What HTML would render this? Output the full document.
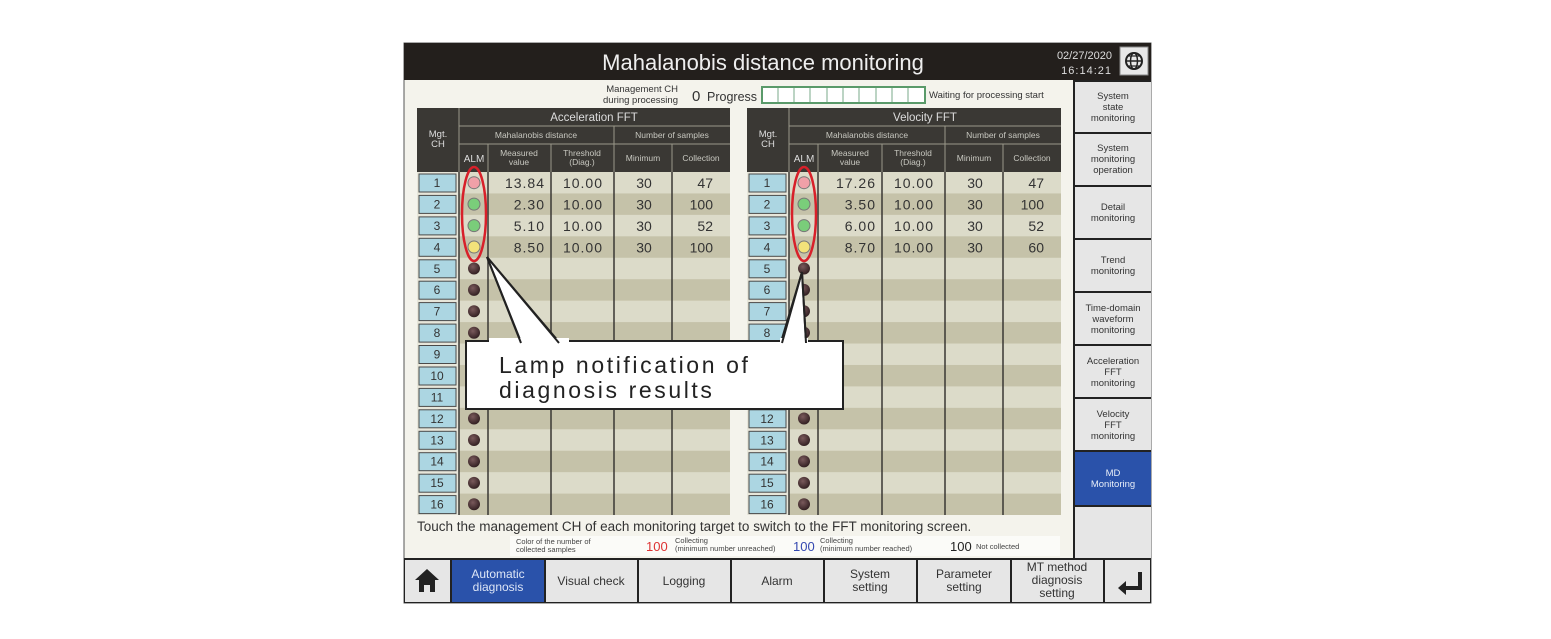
<!DOCTYPE html>
<html><head><meta charset="utf-8"><style>
body{margin:0;background:#fff;}
svg{display:block;font-family:"Liberation Sans",sans-serif;}
</style></head><body>
<svg width="1551" height="639" viewBox="0 0 1551 639" xmlns="http://www.w3.org/2000/svg">
<defs>
<pattern id="st" x="0" y="172" width="10" height="42.88" patternUnits="userSpaceOnUse">
<rect width="10" height="21.44" fill="#dcdbc9"/><rect y="21.44" width="10" height="21.44" fill="#c5c2a9"/>
</pattern>
<radialGradient id="gd" cx="0.4" cy="0.35" r="0.7"><stop offset="0" stop-color="#7a5a5c"/><stop offset="1" stop-color="#2e1c1e"/></radialGradient>
</defs>
<rect x="404" y="43" width="747" height="560" fill="#f4f3ec" stroke="#555" stroke-width="1"/>
<rect x="404" y="43" width="747" height="37" fill="#231f1c"/>
<text x="763" y="70" font-size="22" fill="#eee" text-anchor="middle">Mahalanobis distance monitoring</text>
<text x="1112" y="59" font-size="11" fill="#ddd" text-anchor="end">02/27/2020</text>
<text x="1112" y="74" font-size="11" fill="#ddd" text-anchor="end" letter-spacing="1">16:14:21</text>
<rect x="1120" y="47" width="28" height="28" fill="#e8e8e8" stroke="#888"/>
<circle cx="1134" cy="61" r="8" fill="none" stroke="#222" stroke-width="2"/>
<ellipse cx="1134" cy="61" rx="3.5" ry="8" fill="none" stroke="#222" stroke-width="1.5"/>
<line x1="1126" y1="61" x2="1142" y2="61" stroke="#222" stroke-width="1.5"/>
<line x1="1127" y1="56" x2="1141" y2="56" stroke="#222" stroke-width="1.2"/>
<line x1="1127" y1="66" x2="1141" y2="66" stroke="#222" stroke-width="1.2"/>

<text x="678" y="92" font-size="9.5" fill="#333" text-anchor="end">Management CH</text>
<text x="678" y="103" font-size="9.5" fill="#333" text-anchor="end">during processing</text>
<text x="692" y="101" font-size="15" fill="#333">0</text>
<text x="707" y="101" font-size="12.5" fill="#333">Progress</text>
<rect x="762" y="87" width="163" height="16" fill="#fff" stroke="#5a9a6a" stroke-width="2"/>
<g stroke="#7aa88a" stroke-width="1">
<line x1="778" y1="88" x2="778" y2="102"/><line x1="794" y1="88" x2="794" y2="102"/><line x1="810" y1="88" x2="810" y2="102"/><line x1="827" y1="88" x2="827" y2="102"/><line x1="843" y1="88" x2="843" y2="102"/><line x1="859" y1="88" x2="859" y2="102"/><line x1="876" y1="88" x2="876" y2="102"/><line x1="892" y1="88" x2="892" y2="102"/><line x1="908" y1="88" x2="908" y2="102"/>
</g>
<text x="929" y="98" font-size="9.5" fill="#333">Waiting for processing start</text>

<rect x="1073" y="80" width="78" height="478" fill="#222"/>
<g fill="#e6e6e6">
<rect x="1075" y="82" width="76" height="50"/><rect x="1075" y="134" width="76" height="51"/><rect x="1075" y="187" width="76" height="51"/><rect x="1075" y="240" width="76" height="51"/><rect x="1075" y="293" width="76" height="51"/><rect x="1075" y="346" width="76" height="51"/><rect x="1075" y="399" width="76" height="51"/><rect x="1075" y="507" width="76" height="51"/>
</g>
<rect x="1075" y="452" width="76" height="53" fill="#2a52aa"/>
<g font-size="9.5" fill="#333" text-anchor="middle">
<text x="1113" y="99">System</text><text x="1113" y="110">state</text><text x="1113" y="121">monitoring</text>
<text x="1113" y="151">System</text><text x="1113" y="162">monitoring</text><text x="1113" y="173">operation</text>
<text x="1113" y="210">Detail</text><text x="1113" y="221">monitoring</text>
<text x="1113" y="263">Trend</text><text x="1113" y="274">monitoring</text>
<text x="1113" y="311">Time-domain</text><text x="1113" y="322">waveform</text><text x="1113" y="333">monitoring</text>
<text x="1113" y="364">Acceleration</text><text x="1113" y="375">FFT</text><text x="1113" y="386">monitoring</text>
<text x="1113" y="417">Velocity</text><text x="1113" y="428">FFT</text><text x="1113" y="439">monitoring</text>
<text x="1113" y="476" fill="#e8eef8">MD</text><text x="1113" y="487" fill="#e8eef8">Monitoring</text>
</g>

<rect x="404" y="558" width="747" height="45" fill="#222"/>
<g fill="#e6e6e6">
<rect x="405" y="560" width="45" height="42"/><rect x="546" y="560" width="91" height="42"/><rect x="639" y="560" width="91" height="42"/><rect x="732" y="560" width="91" height="42"/><rect x="825" y="560" width="91" height="42"/><rect x="918" y="560" width="92" height="42"/><rect x="1012" y="560" width="91" height="42"/><rect x="1105" y="560" width="45" height="42"/>
</g>
<rect x="452" y="560" width="92" height="42" fill="#2a52aa"/>
<path d="M415 580 L427 569 L439 580 L435 580 L435 592 L430 592 L430 585 L424 585 L424 592 L419 592 L419 580 Z" fill="#222"/>
<path d="M1138 572 L1138 586 L1126 586 L1126 581 L1118 588 L1126 595 L1126 590 L1142 590 L1142 572 Z" fill="#222"/>
<g font-size="12" fill="#333" text-anchor="middle">
<text x="498" y="578" fill="#dde6f6">Automatic</text><text x="498" y="591" fill="#dde6f6">diagnosis</text>
<text x="591" y="585">Visual check</text>
<text x="684" y="585">Logging</text>
<text x="777" y="585">Alarm</text>
<text x="870" y="578">System</text><text x="870" y="591">setting</text>
<text x="964" y="578">Parameter</text><text x="964" y="591">setting</text>
<text x="1057" y="571">MT method</text><text x="1057" y="584">diagnosis</text><text x="1057" y="597">setting</text>
</g>

<text x="417" y="531" font-size="13.5" fill="#333">Touch the management CH of each monitoring target to switch to the FFT monitoring screen.</text>
<rect x="510" y="536" width="550" height="20" fill="#fbfbf8"/>
<g font-size="7.5" fill="#444">
<text x="516" y="544">Color of the number of</text><text x="516" y="552">collected samples</text>
<text x="675" y="543">Collecting</text><text x="675" y="551">(minimum number unreached)</text>
<text x="820" y="543">Collecting</text><text x="820" y="551">(minimum number reached)</text>
<text x="976" y="549">Not collected</text>
</g>
<text x="646" y="551" font-size="13" fill="#d33">100</text>
<text x="793" y="551" font-size="13" fill="#3448b0">100</text>
<text x="950" y="551" font-size="13" fill="#222">100</text>

<rect x="417" y="108" width="313" height="64" fill="#3a3834"/>
<rect x="417" y="172" width="42" height="343" fill="#e7e6da"/>
<rect x="459" y="172" width="271" height="343" fill="url(#st)"/>
<g stroke="#9a988a" stroke-width="1">
<line x1="459" y1="126" x2="730" y2="126"/><line x1="459" y1="144" x2="730" y2="144"/>
<line x1="614" y1="126" x2="614" y2="172"/>
<line x1="488" y1="144" x2="488" y2="172"/><line x1="551" y1="144" x2="551" y2="172"/><line x1="672" y1="144" x2="672" y2="172"/>
<line x1="459" y1="108" x2="459" y2="172"/>
</g>
<g stroke="#3a3834" stroke-width="1.5">
<line x1="459" y1="172" x2="459" y2="515"/><line x1="488" y1="172" x2="488" y2="515"/><line x1="551" y1="172" x2="551" y2="515"/><line x1="614" y1="172" x2="614" y2="515"/><line x1="672" y1="172" x2="672" y2="515"/>
</g>
<g font-size="11.5" fill="#ddd" text-anchor="middle">
<text x="594" y="121">Acceleration FFT</text>
<text x="438" y="137" font-size="9.5">Mgt.</text><text x="438" y="147" font-size="9.5">CH</text>
<text x="474" y="162" font-size="10">ALM</text>
</g>
<g font-size="8.5" fill="#c8c8c0" text-anchor="middle">
<text x="536" y="138">Mahalanobis distance</text><text x="672" y="138">Number of samples</text>
<text x="519" y="156">Measured</text><text x="519" y="165">value</text>
<text x="582" y="156">Threshold</text><text x="582" y="165">(Diag.)</text>
<text x="643" y="161">Minimum</text><text x="701" y="161">Collection</text>
</g>

<rect x="747" y="108" width="314" height="64" fill="#3a3834"/>
<rect x="747" y="172" width="42" height="343" fill="#e7e6da"/>
<rect x="789" y="172" width="272" height="343" fill="url(#st)"/>
<g stroke="#9a988a" stroke-width="1">
<line x1="789" y1="126" x2="1061" y2="126"/><line x1="789" y1="144" x2="1061" y2="144"/>
<line x1="945" y1="126" x2="945" y2="172"/>
<line x1="818" y1="144" x2="818" y2="172"/><line x1="882" y1="144" x2="882" y2="172"/><line x1="1003" y1="144" x2="1003" y2="172"/>
<line x1="789" y1="108" x2="789" y2="172"/>
</g>
<g stroke="#3a3834" stroke-width="1.5">
<line x1="789" y1="172" x2="789" y2="515"/><line x1="818" y1="172" x2="818" y2="515"/><line x1="882" y1="172" x2="882" y2="515"/><line x1="945" y1="172" x2="945" y2="515"/><line x1="1003" y1="172" x2="1003" y2="515"/>
</g>
<g font-size="11.5" fill="#ddd" text-anchor="middle">
<text x="925" y="121">Velocity FFT</text>
<text x="768" y="137" font-size="9.5">Mgt.</text><text x="768" y="147" font-size="9.5">CH</text>
<text x="804" y="162" font-size="10">ALM</text>
</g>
<g font-size="8.5" fill="#c8c8c0" text-anchor="middle">
<text x="867" y="138">Mahalanobis distance</text><text x="1003" y="138">Number of samples</text>
<text x="850" y="156">Measured</text><text x="850" y="165">value</text>
<text x="913" y="156">Threshold</text><text x="913" y="165">(Diag.)</text>
<text x="974" y="161">Minimum</text><text x="1032" y="161">Collection</text>
</g>

<g fill="#acd6e2" stroke="#4a4a4a" stroke-width="1">
<rect x="419" y="174" width="37" height="18"/><rect x="419" y="195.4" width="37" height="18"/><rect x="419" y="216.9" width="37" height="18"/><rect x="419" y="238.3" width="37" height="18"/><rect x="419" y="259.8" width="37" height="18"/><rect x="419" y="281.2" width="37" height="18"/><rect x="419" y="302.6" width="37" height="18"/><rect x="419" y="324.1" width="37" height="18"/><rect x="419" y="345.5" width="37" height="18"/><rect x="419" y="367" width="37" height="18"/><rect x="419" y="388.4" width="37" height="18"/><rect x="419" y="409.8" width="37" height="18"/><rect x="419" y="431.3" width="37" height="18"/><rect x="419" y="452.7" width="37" height="18"/><rect x="419" y="474.2" width="37" height="18"/><rect x="419" y="495.6" width="37" height="18"/>
<rect x="749" y="174" width="37" height="18"/><rect x="749" y="195.4" width="37" height="18"/><rect x="749" y="216.9" width="37" height="18"/><rect x="749" y="238.3" width="37" height="18"/><rect x="749" y="259.8" width="37" height="18"/><rect x="749" y="281.2" width="37" height="18"/><rect x="749" y="302.6" width="37" height="18"/><rect x="749" y="324.1" width="37" height="18"/><rect x="749" y="345.5" width="37" height="18"/><rect x="749" y="367" width="37" height="18"/><rect x="749" y="388.4" width="37" height="18"/><rect x="749" y="409.8" width="37" height="18"/><rect x="749" y="431.3" width="37" height="18"/><rect x="749" y="452.7" width="37" height="18"/><rect x="749" y="474.2" width="37" height="18"/><rect x="749" y="495.6" width="37" height="18"/>
</g>
<g font-size="12" fill="#333" text-anchor="middle">
<text x="437" y="187">1</text><text x="437" y="208.4">2</text><text x="437" y="229.9">3</text><text x="437" y="251.3">4</text><text x="437" y="272.8">5</text><text x="437" y="294.2">6</text><text x="437" y="315.6">7</text><text x="437" y="337.1">8</text><text x="437" y="358.5">9</text><text x="437" y="380">10</text><text x="437" y="401.4">11</text><text x="437" y="422.8">12</text><text x="437" y="444.3">13</text><text x="437" y="465.7">14</text><text x="437" y="487.2">15</text><text x="437" y="508.6">16</text>
<text x="767" y="187">1</text><text x="767" y="208.4">2</text><text x="767" y="229.9">3</text><text x="767" y="251.3">4</text><text x="767" y="272.8">5</text><text x="767" y="294.2">6</text><text x="767" y="315.6">7</text><text x="767" y="337.1">8</text><text x="767" y="358.5">9</text><text x="767" y="380">10</text><text x="767" y="401.4">11</text><text x="767" y="422.8">12</text><text x="767" y="444.3">13</text><text x="767" y="465.7">14</text><text x="767" y="487.2">15</text><text x="767" y="508.6">16</text>
</g>

<g stroke="#777" stroke-width="1">
<circle cx="474" cy="182.7" r="6" fill="#f0a0a8"/><circle cx="474" cy="204.1" r="6" fill="#7acd7a"/><circle cx="474" cy="225.6" r="6" fill="#7acd7a"/><circle cx="474" cy="247" r="6" fill="#f2e27a"/>
<circle cx="804" cy="182.7" r="6" fill="#f0a0a8"/><circle cx="804" cy="204.1" r="6" fill="#7acd7a"/><circle cx="804" cy="225.6" r="6" fill="#7acd7a"/><circle cx="804" cy="247" r="6" fill="#f2e27a"/>
</g>
<g fill="url(#gd)">
<circle cx="474" cy="268.5" r="6"/><circle cx="474" cy="289.9" r="6"/><circle cx="474" cy="311.3" r="6"/><circle cx="474" cy="332.8" r="6"/><circle cx="474" cy="354.2" r="6"/><circle cx="474" cy="375.7" r="6"/><circle cx="474" cy="397.1" r="6"/><circle cx="474" cy="418.5" r="6"/><circle cx="474" cy="440" r="6"/><circle cx="474" cy="461.4" r="6"/><circle cx="474" cy="482.9" r="6"/><circle cx="474" cy="504.3" r="6"/>
<circle cx="804" cy="268.5" r="6"/><circle cx="804" cy="289.9" r="6"/><circle cx="804" cy="311.3" r="6"/><circle cx="804" cy="332.8" r="6"/><circle cx="804" cy="354.2" r="6"/><circle cx="804" cy="375.7" r="6"/><circle cx="804" cy="397.1" r="6"/><circle cx="804" cy="418.5" r="6"/><circle cx="804" cy="440" r="6"/><circle cx="804" cy="461.4" r="6"/><circle cx="804" cy="482.9" r="6"/><circle cx="804" cy="504.3" r="6"/>
</g>

<g font-size="14" fill="#333" letter-spacing="1">
<g text-anchor="end">
<text x="545" y="188">13.84</text><text x="545" y="209.4">2.30</text><text x="545" y="230.9">5.10</text><text x="545" y="252.3">8.50</text>
<text x="876" y="188">17.26</text><text x="876" y="209.4">3.50</text><text x="876" y="230.9">6.00</text><text x="876" y="252.3">8.70</text>
</g>
<g text-anchor="middle">
<text x="583" y="188">10.00</text><text x="583" y="209.4">10.00</text><text x="583" y="230.9">10.00</text><text x="583" y="252.3">10.00</text>
<text x="914" y="188">10.00</text><text x="914" y="209.4">10.00</text><text x="914" y="230.9">10.00</text><text x="914" y="252.3">10.00</text>
</g>
</g>
<g font-size="14" fill="#333">
<g text-anchor="middle">
<text x="644" y="188">30</text><text x="644" y="209.4">30</text><text x="644" y="230.9">30</text><text x="644" y="252.3">30</text>
<text x="975" y="188">30</text><text x="975" y="209.4">30</text><text x="975" y="230.9">30</text><text x="975" y="252.3">30</text>
</g>
<g text-anchor="end">
<text x="713" y="188">47</text><text x="713" y="209.4">100</text><text x="713" y="230.9">52</text><text x="713" y="252.3">100</text>
<text x="1044" y="188">47</text><text x="1044" y="209.4">100</text><text x="1044" y="230.9">52</text><text x="1044" y="252.3">60</text>
</g>
</g>

<ellipse cx="474" cy="214" rx="12" ry="47" fill="none" stroke="#d8202a" stroke-width="2.5"/>
<ellipse cx="804" cy="214" rx="12" ry="47" fill="none" stroke="#d8202a" stroke-width="2.5"/>

<path d="M487 257 L521 342 L559 342 Z" fill="#fff" stroke="#222" stroke-width="2" stroke-linejoin="miter"/>
<path d="M802 272 L781 342 L806 342 Z" fill="#fff" stroke="#222" stroke-width="2"/>
<rect x="466" y="341" width="377" height="68" fill="#fff" stroke="#222" stroke-width="2"/>
<rect x="489" y="338" width="80" height="5" fill="#fff"/>
<rect x="780" y="338" width="28" height="5" fill="#fff"/>
<path d="M487 257 L521 343 M487 257 L559 343 M802 272 L782 343 M802 272 L806 343" stroke="#222" stroke-width="2" fill="none"/>
<text x="499" y="373" font-size="23" fill="#222" letter-spacing="2.6">Lamp notification of</text>
<text x="499" y="398" font-size="23" fill="#222" letter-spacing="2.6">diagnosis results</text>
</svg>
</body></html>
